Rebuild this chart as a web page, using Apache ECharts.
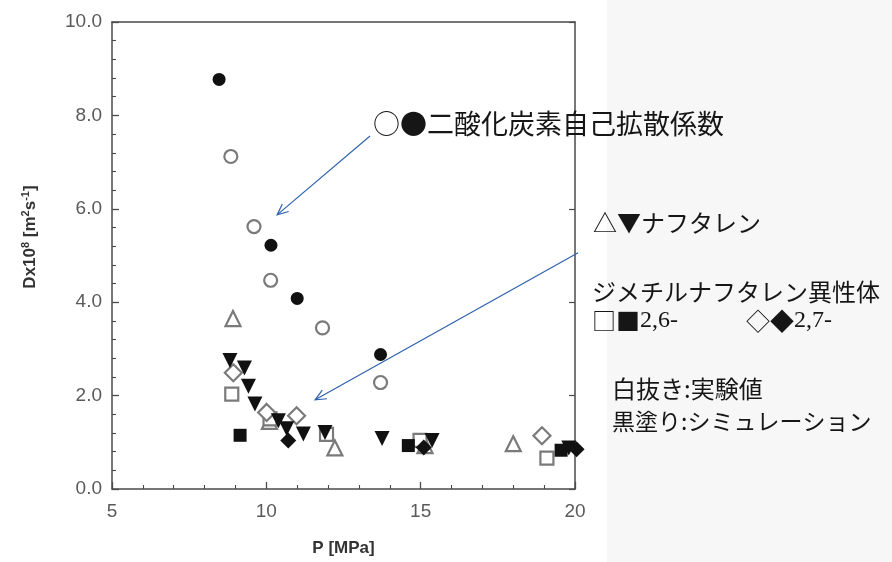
<!DOCTYPE html>
<html>
<head>
<meta charset="utf-8">
<script src="https://cdn.jsdelivr.net/npm/echarts@6/dist/echarts.min.js"></script>
<style>
  html, body { margin: 0; padding: 0; background: #fff; }
  #chart { width: 892px; height: 562px; }
</style>
</head>
<body>
<div id="chart"></div>
<script>
// Self-diffusion coefficients vs. pressure: [P (MPa), D x 10^8 (m^2/s)]
const co2Exp   = [[8.85, 7.12], [9.6, 5.62], [10.14, 4.47], [11.82, 3.45], [13.7, 2.28]];
const co2Sim   = [[8.47, 8.77], [10.15, 5.22], [11.0, 4.08], [13.7, 2.88]];
const naphExp  = [[8.92, 3.65], [10.1, 1.45], [12.22, 0.88], [15.14, 0.93], [18.0, 0.97]];
const naphSim  = [[8.82, 2.75], [9.29, 2.59], [9.42, 2.2], [9.63, 1.82], [10.39, 1.46],
                  [10.66, 1.29], [11.2, 1.18], [11.9, 1.21], [13.75, 1.08], [15.37, 1.04], [19.8, 0.88]];
const dmn26Exp = [[8.88, 2.03], [10.12, 1.5], [11.95, 1.17], [14.98, 1.04], [19.09, 0.66]];
const dmn26Sim = [[9.15, 1.15], [14.6, 0.93], [19.55, 0.83]];
const dmn27Exp = [[8.93, 2.49], [10.01, 1.64], [10.98, 1.57], [18.93, 1.14]];
const dmn27Sim = [[10.71, 1.04], [15.1, 0.89], [20.05, 0.85]];

// Arrow annotations in data coordinates: [from, to]
const arrowCO2  = [[13.36, 7.56], [10.35, 5.87]];
const arrowNaph = [[20.1, 5.06], [11.58, 1.91]];

const xTicks = { min: 5, max: 20, interval: 5 };
const yTicks = { min: 0, max: 10, interval: 2 };

const openGray = '#7a7a7a';
const black = '#111111';
const axisColor = '#4a4a4a';
const labelColor = '#5a5a5a';

function openSeries(data, symbol, size, rotate) {
  return {
    type: 'scatter', data, symbol, symbolSize: size, symbolRotate: rotate || 0,
    clip: false,
    itemStyle: { color: '#fff', borderColor: openGray, borderWidth: 2.2, opacity: 1 }
  };
}
function filledSeries(data, symbol, size, rotate) {
  return {
    type: 'scatter', data, symbol, symbolSize: size, symbolRotate: rotate || 0,
    clip: false,
    itemStyle: { color: black, borderColor: black, borderWidth: 0, opacity: 1 }
  };
}

const chart = echarts.init(document.getElementById('chart'), null, { renderer: 'canvas' });

const tickLabelFont = { fontFamily: 'Liberation Sans, Arial, sans-serif', fontSize: 19, color: labelColor };

const option = {
  backgroundColor: '#fff',
  animation: false,
  grid: { left: 112, right: 317, top: 22, bottom: 68 },
  xAxis: [{
    type: 'value', min: xTicks.min, max: xTicks.max, interval: xTicks.interval,
    name: 'P [MPa]', nameLocation: 'middle', nameGap: 51,
    nameTextStyle: { fontFamily: 'Liberation Sans, Arial, sans-serif', fontSize: 17, fontWeight: 'bold', color: '#333' },
    axisLine: { onZero: false, lineStyle: { color: axisColor, width: 1.5 } },
    axisTick: { inside: true, length: 7, lineStyle: { color: axisColor, width: 1.3 } },
    minorTick: { show: true, splitNumber: 5, length: 4, lineStyle: { color: axisColor, width: 1.1 } },
    axisLabel: Object.assign({ margin: 13 }, tickLabelFont),
    splitLine: { show: false }
  }, {
    type: 'value', position: 'top', min: xTicks.min, max: xTicks.max, interval: xTicks.interval,
    axisLine: { onZero: false, lineStyle: { color: axisColor, width: 1.5 } },
    axisTick: { show: false }, axisLabel: { show: false }, splitLine: { show: false }
  }],
  yAxis: [{
    type: 'value', min: yTicks.min, max: yTicks.max, interval: yTicks.interval,
    axisLine: { show: true, onZero: false, lineStyle: { color: axisColor, width: 1.5 } },
    axisTick: { show: true, inside: true, length: 7, lineStyle: { color: axisColor, width: 1.3 } },
    minorTick: { show: true, splitNumber: 5, length: 4, lineStyle: { color: axisColor, width: 1.1 } },
    axisLabel: Object.assign({ margin: 10, formatter: v => v.toFixed(1) }, tickLabelFont),
    splitLine: { show: false }
  }, {
    type: 'value', position: 'right', min: yTicks.min, max: yTicks.max, interval: yTicks.interval,
    axisLine: { show: true, onZero: false, lineStyle: { color: axisColor, width: 1.5 } },
    axisTick: { show: true, inside: true, length: 6, lineStyle: { color: axisColor, width: 1.2 } },
    axisLabel: { show: false }, splitLine: { show: false }
  }],
  series: [
    openSeries(co2Exp, 'circle', 13),
    openSeries(naphExp, 'triangle', 15),
    openSeries(dmn26Exp, 'rect', 13),
    openSeries(dmn27Exp, 'diamond', 17),
    filledSeries(co2Sim, 'circle', 13),
    filledSeries(naphSim, 'triangle', 15, 180),
    filledSeries(dmn26Sim, 'rect', 13),
    filledSeries(dmn27Sim, 'diamond', 16)
  ]
};
chart.setOption(option);

// Annotation texts and arrows
const jpFont = '"Noto Sans CJK JP", sans-serif';
const serifFont = '"Liberation Serif", "DejaVu Serif", serif';
const textColor = '#161616';
const arrowColor = '#2f62ad';

function arrowGraphic(pair) {
  const p0 = chart.convertToPixel({ xAxisIndex: 0, yAxisIndex: 0 }, pair[0]);
  const p1 = chart.convertToPixel({ xAxisIndex: 0, yAxisIndex: 0 }, pair[1]);
  const ang = Math.atan2(p0[1] - p1[1], p0[0] - p1[0]);
  const len = 12, spread = 0.42;
  const a = [p1[0] + len * Math.cos(ang + spread), p1[1] + len * Math.sin(ang + spread)];
  const b = [p1[0] + len * Math.cos(ang - spread), p1[1] + len * Math.sin(ang - spread)];
  return [
    { type: 'line', shape: { x1: p0[0], y1: p0[1], x2: p1[0], y2: p1[1] },
      style: { stroke: arrowColor, lineWidth: 1.2 }, z: 10 },
    { type: 'polyline', shape: { points: [a, p1, b] },
      style: { stroke: arrowColor, lineWidth: 1.2, fill: null }, z: 10 }
  ];
}

function label(x, y, text, size, extra) {
  return Object.assign({
    type: 'text', x, y, z: 10,
    style: { text, fontFamily: jpFont, fontSize: size, fill: textColor,
             textAlign: 'left', textVerticalAlign: 'middle' }
  }, extra || {});
}

chart.setOption({
  graphic: [
    { type: 'rect', shape: { x: 607, y: 0, width: 285, height: 562 },
      style: { fill: '#f7f7f7' }, z: -10, silent: true },
    label(373, 124, '○●二酸化炭素自己拡散係数', 27),
    label(593, 223, '△▼ナフタレン', 24),
    label(592, 292, 'ジメチルナフタレン異性体', 24),
    {
      type: 'text', x: 592, y: 321, z: 10,
      style: {
        text: '{s|□■}{n|2,6-}', textVerticalAlign: 'middle',
        rich: {
          s: { fontFamily: jpFont, fontSize: 24, fill: textColor },
          n: { fontFamily: serifFont, fontSize: 24, fill: textColor }
        }
      }
    },
    {
      type: 'text', x: 746, y: 321, z: 10,
      style: {
        text: '{s|◇◆}{n|2,7-}', textVerticalAlign: 'middle',
        rich: {
          s: { fontFamily: jpFont, fontSize: 24, fill: textColor },
          n: { fontFamily: serifFont, fontSize: 24, fill: textColor }
        }
      }
    },
    label(612, 389, '白抜き:実験値', 24),
    label(612, 421, '黒塗り:シミュレーション', 23),
    {
      type: 'text', x: 30, y: 237, rotation: Math.PI / 2, z: 10,
      style: {
        text: '{b|Dx10}{p|8}{b| [m}{p|2}{b|s}{p|-1}{b|]}',
        textAlign: 'center', textVerticalAlign: 'middle',
        rich: {
          b: { fontFamily: 'Liberation Sans, Arial, sans-serif', fontSize: 17, fontWeight: 'bold', fill: '#333', lineHeight: 20 },
          p: { fontFamily: 'Liberation Sans, Arial, sans-serif', fontSize: 11, fontWeight: 'bold', fill: '#333', verticalAlign: 'top', lineHeight: 20 }
        }
      }
    }
  ].concat(arrowGraphic(arrowCO2), arrowGraphic(arrowNaph))
});
</script>
</body>
</html>
